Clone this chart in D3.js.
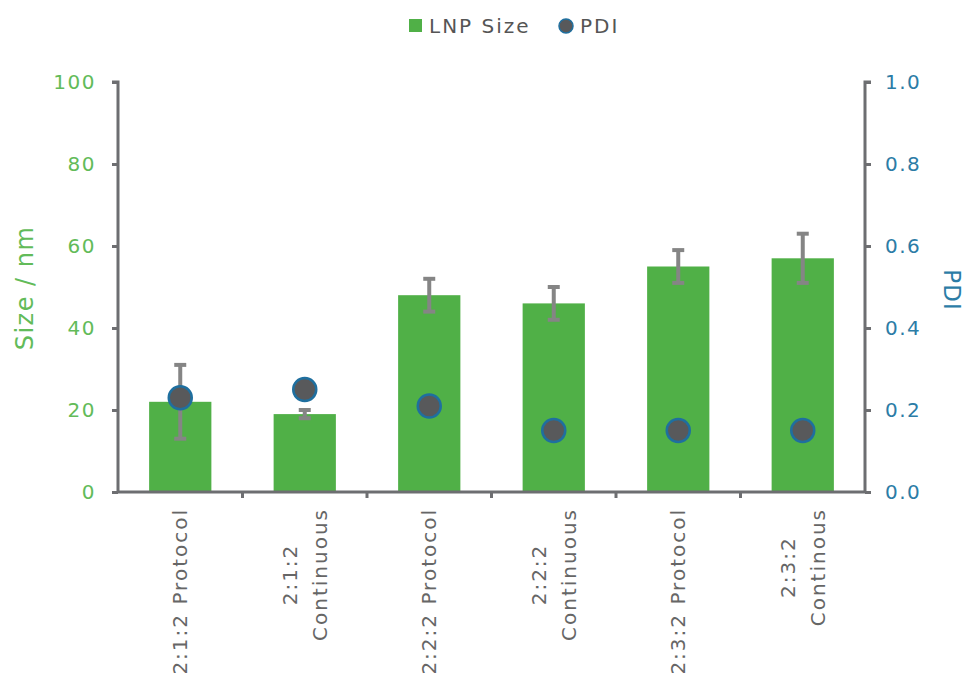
<!DOCTYPE html>
<html><head><meta charset="utf-8">
<script src="https://cdn.jsdelivr.net/npm/d3@7"></script>
<style>
html,body{margin:0;padding:0;background:#fff;}
svg{display:block;font-family:"DejaVu Sans",sans-serif;}
</style></head>
<body><svg id="c" width="966" height="677"></svg>
<script>
const categories = ["2:1:2 Protocol","2:1:2\nContinuous","2:2:2 Protocol","2:2:2\nContinuous","2:3:2 Protocol","2:3:2\nContinous"];
const sizes = [22, 19, 48, 46, 55, 57];
const sizeErr = [9, 1, 4, 4, 4, 6];
const pdi = [0.23, 0.25, 0.21, 0.15, 0.15, 0.15];
const sizeTicks = [0, 20, 40, 60, 80, 100];
const pdiTicks = [0, 0.2, 0.4, 0.6, 0.8, 1.0];

const svg = d3.select("#c");
const L = 118, R = 865, T = 82, B = 492;
const axisColor = "#6d6e71", green = "#50b047", greenText = "#62bb59", blueText = "#2c7ca6";
const x = d3.scaleBand().domain(categories).range([L, R]).paddingInner(0.5).paddingOuter(0.25);
const y = d3.scaleLinear().domain([0, 100]).range([B, T]);
const y2 = d3.scaleLinear().domain([0, 1]).range([B, T]);

// bars
svg.append("g").selectAll("rect").data(categories).join("rect")
  .attr("x", d => x(d)).attr("width", x.bandwidth())
  .attr("y", (d, i) => y(sizes[i])).attr("height", (d, i) => y(0) - y(sizes[i]))
  .attr("fill", green);

// error bars
const eb = svg.append("g").attr("stroke", "#858585").attr("stroke-width", 4);
categories.forEach((c, i) => {
  const cx = x(c) + x.bandwidth() / 2;
  const hi = y(sizes[i] + sizeErr[i]), lo = y(sizes[i] - sizeErr[i]);
  eb.append("line").attr("x1", cx).attr("x2", cx).attr("y1", hi).attr("y2", lo);
  eb.append("line").attr("x1", cx - 6).attr("x2", cx + 6).attr("y1", hi).attr("y2", hi);
  eb.append("line").attr("x1", cx - 6).attr("x2", cx + 6).attr("y1", lo).attr("y2", lo);
});

// axes
const leftAxis = svg.append("g").attr("transform", `translate(${L},0)`)
  .call(d3.axisLeft(y).tickValues(sizeTicks).tickSize(6).tickPadding(16));
const rightAxis = svg.append("g").attr("transform", `translate(${R},0)`)
  .call(d3.axisRight(y2).tickValues(pdiTicks).tickSize(6).tickPadding(14).tickFormat(d3.format(".1f")));
const bottomAxis = svg.append("g").attr("transform", `translate(0,${B})`)
  .call(d3.axisBottom(x).tickSize(0).tickFormat(""));
[leftAxis, rightAxis, bottomAxis].forEach(a => {
  a.select(".domain").attr("stroke", axisColor).attr("stroke-width", 3);
  a.selectAll(".tick line").attr("stroke", axisColor).attr("stroke-width", 3);
});
leftAxis.select(".domain").attr("d", `M-6,${T}H0V${B}`);
rightAxis.select(".domain").attr("d", `M6,${T}H0V${B}`);
bottomAxis.select(".domain").attr("d", `M${L},0H${R}`);
leftAxis.selectAll(".tick text").attr("fill", greenText).attr("font-size", 20).attr("letter-spacing", 1.5).attr("font-family", "DejaVu Sans");
rightAxis.selectAll(".tick text").attr("fill", blueText).attr("font-size", 20).attr("letter-spacing", 1.5).attr("font-family", "DejaVu Sans");

// category boundary ticks
const bnd = d3.range(1, categories.length).map(i => x(categories[i]) - x.step() * x.paddingInner() / 2);
svg.append("g").selectAll("line").data(bnd).join("line")
  .attr("x1", d => d).attr("x2", d => d).attr("y1", B).attr("y2", B + 6)
  .attr("stroke", axisColor).attr("stroke-width", 3);

// x labels
categories.forEach(c => {
  const cx = x(c) + x.bandwidth() / 2;
  const lines = c.split("\n");
  const g = svg.append("g").attr("transform", `translate(${cx},508) rotate(-90)`);
  const texts = lines.map((t, j) => g.append("text").text(t)
    .attr("font-size", 20).attr("letter-spacing", 2).attr("fill", "#666")
    .attr("text-anchor", "middle")
    .attr("y", (j - (lines.length - 1) / 2) * 30).attr("dy", "0.35em"));
  const maxW = d3.max(texts, t => t.node().getComputedTextLength());
  texts.forEach(t => t.attr("x", -maxW / 2));
});

// PDI dots
svg.append("g").selectAll("circle").data(categories).join("circle")
  .attr("cx", d => x(d) + x.bandwidth() / 2).attr("cy", (d, i) => y2(pdi[i]))
  .attr("r", 11.5).attr("fill", "#58595b").attr("stroke", "#1f6f9f").attr("stroke-width", 2.5);

// axis titles
svg.append("text").text("Size / nm").attr("transform", "translate(25,288) rotate(-90)")
  .attr("text-anchor", "middle").attr("dy", "0.35em").attr("font-size", 24).attr("letter-spacing", 1.5).attr("fill", greenText);
svg.append("text").text("PDI").attr("transform", "translate(952,290) rotate(90)")
  .attr("text-anchor", "middle").attr("dy", "0.35em").attr("font-size", 23).attr("letter-spacing", 1).attr("fill", blueText);

// legend
const lg = svg.append("g");
lg.append("rect").attr("x", 409).attr("y", 19).attr("width", 13).attr("height", 13).attr("fill", green);
lg.append("text").text("LNP Size").attr("x", 429).attr("y", 26).attr("dy", "0.35em").attr("font-size", 20).attr("letter-spacing", 2).attr("fill", "#555");
lg.append("circle").attr("cx", 566).attr("cy", 26).attr("r", 7).attr("fill", "#58595b").attr("stroke", "#1f6f9f").attr("stroke-width", 1.5);
lg.append("text").text("PDI").attr("x", 580).attr("y", 26).attr("dy", "0.35em").attr("font-size", 20).attr("letter-spacing", 2).attr("fill", "#555");
</script></body></html>
